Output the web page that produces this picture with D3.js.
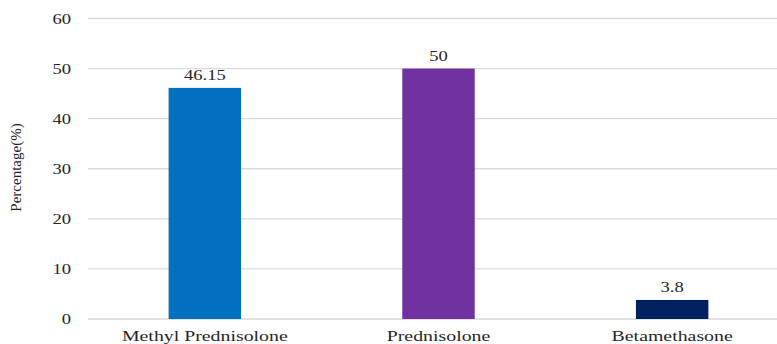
<!DOCTYPE html>
<html>
<head>
<meta charset="utf-8">
<script src="https://cdn.jsdelivr.net/npm/d3@7"></script>
<style>
  html, body { margin: 0; padding: 0; background: #ffffff; }
  svg { display: block; }
</style>
</head>
<body>
<svg id="chart" width="777" height="344"></svg>
<script>
// Share of patients by corticosteroid used
const categories = ["Methyl Prednisolone", "Prednisolone", "Betamethasone"];
const values = [46.15, 50, 3.8];
const valueLabels = ["46.15", "50", "3.8"];
const barColors = ["#0070C0", "#7030A0", "#002060"];
const yTicks = [0, 10, 20, 30, 40, 50, 60];
const yTitle = "Percentage(%)";

const FONT = "'Liberation Serif', 'Times New Roman', Times, serif";
const svg = d3.select("#chart");
const W = 777, H = 344;
const plot = { left: 88, right: 789, top: 18.5, bottom: 319 };
const sx = 1.28; // horizontal text stretch

const x = d3.scaleBand()
  .domain(categories)
  .range([plot.left, plot.right])
  .paddingInner(0.69)
  .paddingOuter(0.345);

const y = d3.scaleLinear()
  .domain([0, 60])
  .range([plot.bottom, plot.top]);

function styleText(sel, size) {
  return sel.style("font-family", FONT).style("font-size", size).attr("fill", "#262626");
}

// horizontal gridlines
svg.append("g")
  .selectAll("line")
  .data(yTicks)
  .join("line")
  .attr("x1", plot.left)
  .attr("x2", W)
  .attr("y1", d => y(d))
  .attr("y2", d => y(d))
  .attr("stroke", "#d9d9d9")
  .attr("stroke-width", 1.3);

// y tick labels
styleText(svg.append("g")
  .selectAll("text")
  .data(yTicks)
  .join("text")
  .attr("transform", d => `translate(71,${y(d)}) scale(${sx},1)`)
  .attr("text-anchor", "end")
  .attr("dy", "0.35em")
  .text(d => d), "14.5px");

// bars
svg.append("g")
  .selectAll("rect")
  .data(values)
  .join("rect")
  .attr("x", (d, i) => x(categories[i]))
  .attr("width", x.bandwidth())
  .attr("y", d => y(d))
  .attr("height", d => y(0) - y(d))
  .attr("fill", (d, i) => barColors[i]);

// value labels
styleText(svg.append("g")
  .selectAll("text")
  .data(values)
  .join("text")
  .attr("transform", (d, i) => `translate(${x(categories[i]) + x.bandwidth() / 2},${y(d) - 8}) scale(${sx},1)`)
  .attr("text-anchor", "middle")
  .text((d, i) => valueLabels[i]), "14.5px");

// category labels
styleText(svg.append("g")
  .selectAll("text")
  .data(categories)
  .join("text")
  .attr("transform", d => `translate(${x(d) + x.bandwidth() / 2},341) scale(${sx},1)`)
  .attr("text-anchor", "middle")
  .text(d => d), "15.5px");

// y axis title
styleText(svg.append("text")
  .attr("transform", "translate(21,167.5) rotate(-90)")
  .attr("text-anchor", "middle")
  .text(yTitle), "15px");
</script>
</body>
</html>
